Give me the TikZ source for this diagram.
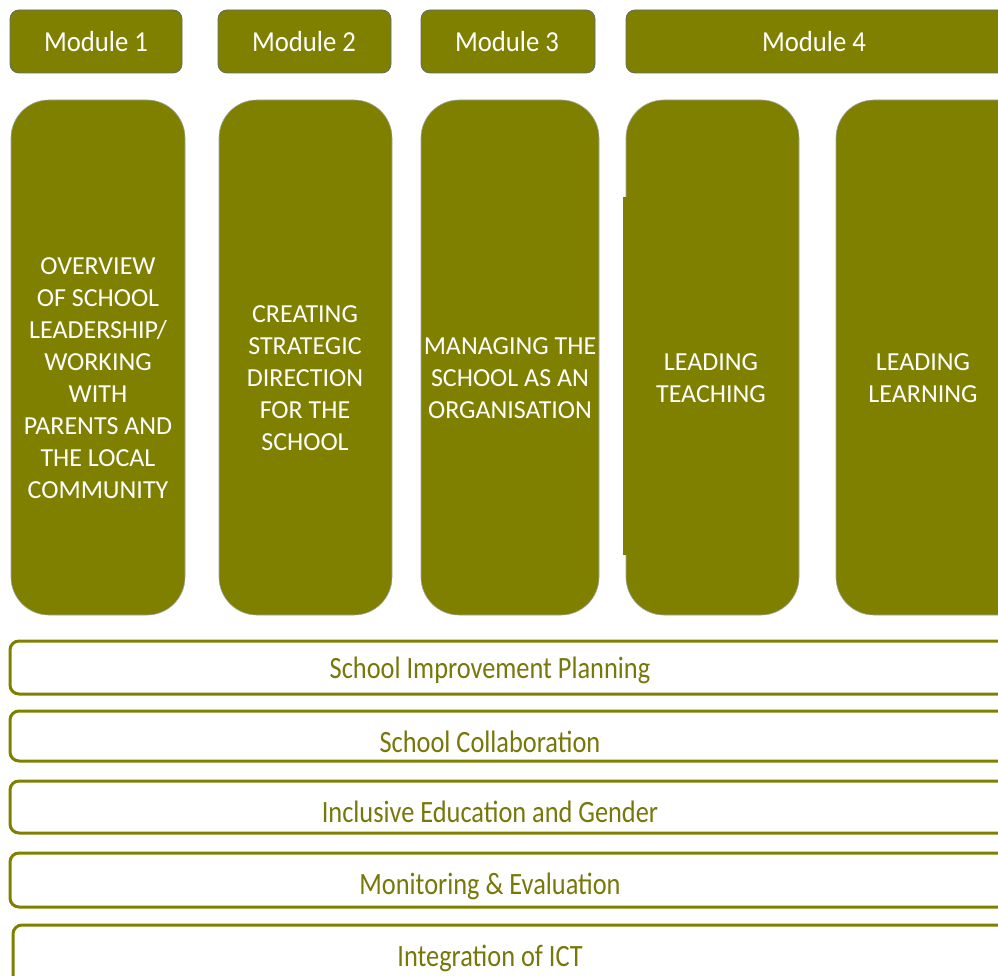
\documentclass[tikz,border=0pt]{standalone}
\usepackage{fontspec}
\setmainfont{Carlito}
\definecolor{oliv}{HTML}{808000}
\definecolor{edgec}{HTML}{5E6E66}
\definecolor{bandtxt}{HTML}{77770A}
\begin{document}
\begin{tikzpicture}[x=1pt,y=-1pt,
  hdr/.style={fill=oliv,draw=edgec,line width=0.8pt,rounded corners=9pt},
  col/.style={fill=oliv,draw=edgec!60,line width=0.6pt,rounded corners=38pt},
  band/.style={fill=white,draw=oliv,line width=3pt,rounded corners=9pt},
  hdrtxt/.style={text=white,xscale=0.92,font=\fontsize{29}{30}\selectfont},
  coltxt/.style={text=white,align=center,font=\fontsize{26}{32}\selectfont},
  bandtext/.style={text=bandtxt,xscale=0.85,font=\fontsize{31}{34}\selectfont}]
\useasboundingbox (0,0) rectangle (998,976);
\clip (0,0) rectangle (998,976);
% header boxes
\draw[hdr] (10,10) rectangle (182,73);
\draw[hdr] (218,10) rectangle (391,73);
\draw[hdr] (421,10) rectangle (595,73);
\draw[hdr] (626,10) rectangle (1010,73);
\node[hdrtxt] (h1) at (96,42) {Module 1};
\node[hdrtxt] (h2) at (304,42) {Module 2};
\node[hdrtxt] (h3) at (507,42) {Module 3};
\node[hdrtxt] (h4) at (814,42) {Module 4};
% columns
\draw[col] (11,100) rectangle (185,615);
\draw[col] (219,100) rectangle (392,615);
\draw[col] (421,100) rectangle (599,615);
\draw[col] (626,100) rectangle (799,615);
\fill[oliv] (623,197) rectangle (632,555);
\draw[col] (836,100) rectangle (1040,615);
\node[coltxt] (c1) at (98,378) {OVERVIEW\\OF SCHOOL\\LEADERSHIP/\\WORKING\\WITH\\PARENTS AND\\THE LOCAL\\COMMUNITY};
\node[coltxt] (c2) at (305,378) {CREATING\\STRATEGIC\\DIRECTION\\FOR THE\\SCHOOL};
\node[coltxt] (c3) at (510,378) {MANAGING THE\\SCHOOL AS AN\\ORGANISATION};
\node[coltxt] (c4) at (711,378) {LEADING\\TEACHING};
\node[coltxt] (c5) at (923,378) {LEADING\\LEARNING};
% bands
\draw[band] (10,641) rectangle (1020,694);
\draw[band] (10,711) rectangle (1020,761);
\draw[band] (10,781) rectangle (1020,833);
\draw[band] (10,853) rectangle (1020,907);
\draw[band] (13,925) rectangle (1020,1000);
\node[bandtext] (b1) at (490,670) {School Improvement Planning};
\node[bandtext] (b2) at (490,742) {School Collaboration};
\node[bandtext] (b3) at (490,812) {Inclusive Education and Gender};
\node[bandtext] (b4) at (490,886) {Monitoring \& Evaluation};
\node[bandtext] (b5) at (490,958) {Integration of ICT};
\end{tikzpicture}
\end{document}
